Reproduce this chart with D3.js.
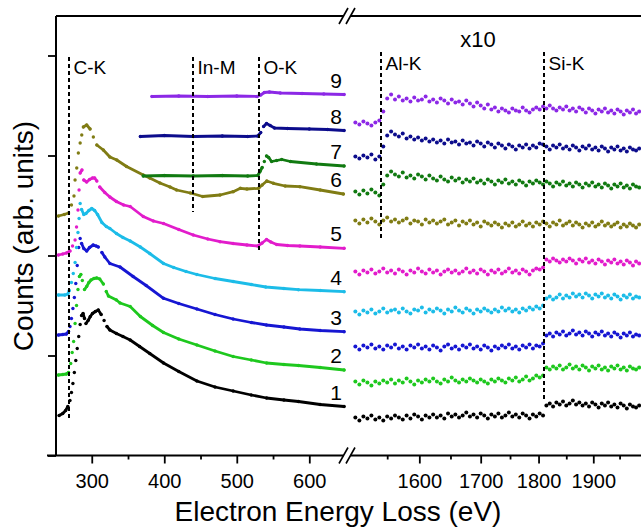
<!DOCTYPE html>
<html>
<head>
<meta charset="utf-8">
<script src="https://cdn.jsdelivr.net/npm/d3@7/dist/d3.min.js"></script>
<style>
  body { margin: 0; background: #fff; }
  svg { display: block; font-family: "Liberation Sans", Arial, sans-serif; }
</style>
</head>
<body>
<div id="chart"></div>
<script>
// ---- Data ----
// low-loss part (linear energy axis), [eV, counts]
const leftS1 = [[255,0.40],[260,0.42],[264,0.45],[267,0.49],[270,0.55],[272,0.63],[274,0.72],[276,0.83],[278,0.95],[280,1.07],[282,1.19],[284,1.31],[286,1.40],[288,1.42],[290,1.37],[292,1.32],[295,1.35],[298,1.39],[301,1.42],[305,1.44],[309,1.455],[313,1.41],[317,1.35],[321,1.29],[325,1.255],[334,1.22],[343,1.19],[353,1.155],[366,1.09],[380,1.02],[399,0.925],[420,0.84],[445,0.745],[470,0.685],[495,0.645],[520,0.605],[541,0.575],[565,0.555],[585,0.54],[615,0.51],[648,0.49]];
const leftS2 = [[254,0.805],[260,0.81],[265,0.815],[268,0.83],[271,0.92],[273,1.03],[275,1.14],[277,1.32],[279,1.50],[281,1.66],[283,1.79],[285,1.81],[287,1.75],[290,1.66],[293,1.69],[296,1.73],[299,1.755],[303,1.77],[307,1.775],[311,1.765],[316,1.715],[320,1.64],[323,1.595],[334,1.555],[339,1.525],[353,1.49],[367,1.39],[384,1.30],[399,1.23],[420,1.165],[445,1.105],[470,1.045],[495,0.99],[520,0.955],[541,0.925],[565,0.91],[585,0.90],[615,0.88],[648,0.855]];
const leftS3 = [[254,1.205],[260,1.21],[265,1.215],[268,1.24],[270,1.29],[272,1.37],[274,1.47],[276,1.58],[278,1.72],[280,1.90],[282,2.08],[284,2.17],[286,2.12],[289,2.07],[293,2.045],[297,2.08],[302,2.105],[306,2.095],[309,2.085],[314,2.03],[318,1.985],[325,1.92],[339,1.885],[357,1.79],[375,1.70],[399,1.572],[420,1.52],[445,1.465],[470,1.41],[495,1.365],[520,1.33],[541,1.305],[565,1.285],[587,1.265],[615,1.25],[648,1.238]];
const leftS4 = [[254,1.605],[263,1.605],[267,1.615],[269,1.65],[272,1.73],[274.5,1.82],[277,1.93],[279,2.08],[281,2.23],[282.5,2.37],[284,2.52],[286,2.46],[289,2.41],[292,2.42],[296,2.45],[300,2.47],[304,2.45],[308,2.41],[314,2.33],[320,2.29],[325,2.27],[334,2.22],[343,2.18],[353,2.145],[367,2.085],[380,2.02],[399,1.92],[413,1.88],[430,1.84],[445,1.81],[470,1.77],[495,1.74],[520,1.71],[540,1.685],[565,1.67],[585,1.658],[615,1.65],[648,1.638]];
const leftS5 = [[254,2.005],[260,2.015],[265,2.025],[270,2.045],[273.5,2.095],[277,2.155],[279,2.285],[281,2.455],[282.5,2.655],[284,2.825],[286.5,2.855],[289,2.755],[293,2.735],[297,2.76],[301,2.775],[304,2.775],[307,2.745],[311,2.685],[318,2.63],[325,2.585],[334,2.54],[344,2.505],[353,2.49],[371,2.39],[385,2.345],[399,2.32],[420,2.26],[440,2.205],[460,2.165],[477,2.138],[495,2.12],[514,2.105],[529,2.095],[535,2.125],[541,2.16],[547,2.135],[555,2.11],[570,2.10],[587,2.095],[615,2.085],[648,2.072]];
const leftS6 = [[254,2.395],[262,2.41],[268,2.425],[272,2.505],[275.5,2.595],[277,2.755],[279.3,2.875],[281.5,3.025],[284,3.125],[286.2,3.205],[288.4,3.285],[293,3.305],[297.7,3.265],[302.2,3.185],[307,3.105],[316,3.055],[325,2.985],[334.5,2.955],[348,2.89],[371,2.805],[380,2.775],[394,2.725],[408,2.685],[417,2.655],[436,2.625],[453,2.59],[477,2.605],[495,2.638],[505,2.672],[514,2.665],[530,2.672],[535,2.705],[541.4,2.745],[550.5,2.722],[566.6,2.695],[587,2.688],[615,2.655],[647,2.615]];
const leftS7 = [[371,2.795],[400,2.80],[440,2.795],[480,2.80],[515,2.795],[529,2.80],[532,2.84],[535,2.88],[538,2.94],[541,2.995],[544,2.98],[548,2.94],[555,2.95],[562,2.96],[574,2.94],[610,2.915],[648,2.895]];
const leftS8 = [[367,3.19],[400,3.20],[440,3.19],[480,3.195],[515,3.19],[529,3.195],[533,3.23],[537,3.29],[541,3.32],[546,3.30],[552,3.275],[570,3.27],[600,3.265],[625,3.26],[648,3.25]];
const leftS9 = [[383,3.59],[420,3.595],[460,3.59],[500,3.595],[528,3.59],[533,3.605],[538,3.63],[545,3.635],[560,3.625],[590,3.62],[620,3.615],[648,3.61]];

// high-loss part (x10), shared energy grid
const rightE = [1502,1508,1514,1520,1526,1532,1538,1544,1550,1556,
  1562,1568,1574,1580,1586,1592,1598,1604,1610,1616,
  1622,1628,1634,1640,1646,1652,1658,1664,1670,1676,
  1682,1688,1694,1700,1706,1712,1718,1724,1730,1736,
  1742,1748,1754,1760,1766,1772,1778,1784,1790,1796,
  1802,1808,1814,1820,1826,1832,1838,1844,1850,1856,
  1862,1868,1874,1880,1886,1892,1898,1904,1910,1916,
  1922,1928,1934,1940,1946,1952,1958,1964,1970,1976,
  1982,1988];
const rightS1 = [0.38,0.35,0.39,0.37,0.40,0.36,0.38,0.35,0.39,0.37,
  0.40,0.38,0.36,0.40,0.37,0.41,0.39,0.36,0.40,0.38,
  0.41,0.38,0.40,0.37,0.42,0.39,0.41,0.38,0.40,0.43,
  0.39,0.41,0.38,0.42,0.40,0.37,0.41,0.39,0.42,0.38,
  0.40,0.43,0.39,0.41,0.38,0.42,0.40,0.37,0.41,0.39,
  0.42,0.40,0.50,0.52,0.49,0.53,0.51,0.54,0.50,0.52,
  0.55,0.51,0.53,0.50,0.52,0.49,0.53,0.51,0.48,0.52,
  0.50,0.53,0.49,0.51,0.48,0.52,0.50,0.47,0.51,0.49,
  0.48,0.50];
const rightS2 = [0.74,0.71,0.75,0.73,0.70,0.74,0.72,0.75,0.73,0.76,
  0.72,0.75,0.73,0.77,0.74,0.71,0.75,0.73,0.76,0.74,
  0.77,0.74,0.72,0.76,0.74,0.78,0.75,0.73,0.76,0.74,
  0.77,0.75,0.73,0.76,0.74,0.72,0.76,0.74,0.77,0.75,
  0.73,0.77,0.75,0.78,0.74,0.76,0.79,0.75,0.77,0.80,
  0.78,0.80,0.88,0.86,0.89,0.87,0.90,0.86,0.88,0.91,
  0.87,0.89,0.86,0.90,0.88,0.85,0.89,0.87,0.90,0.86,
  0.88,0.85,0.89,0.87,0.90,0.86,0.88,0.85,0.89,0.87,
  0.86,0.88];
const rightS3 = [1.09,1.06,1.10,1.08,1.11,1.07,1.09,1.06,1.10,1.08,
  1.11,1.07,1.09,1.06,1.10,1.08,1.11,1.07,1.09,1.06,
  1.10,1.08,1.05,1.09,1.11,1.07,1.09,1.06,1.10,1.08,
  1.11,1.07,1.09,1.06,1.10,1.08,1.05,1.09,1.07,1.10,
  1.08,1.11,1.07,1.09,1.06,1.10,1.08,1.11,1.07,1.10,
  1.09,1.12,1.20,1.22,1.19,1.23,1.21,1.24,1.20,1.22,
  1.25,1.21,1.23,1.20,1.24,1.22,1.19,1.23,1.21,1.24,
  1.20,1.22,1.19,1.23,1.21,1.18,1.22,1.20,1.23,1.19,
  1.21,1.20];
const rightS4 = [1.44,1.41,1.45,1.43,1.46,1.42,1.44,1.47,1.43,1.45,
  1.46,1.43,1.47,1.44,1.42,1.46,1.45,1.48,1.43,1.46,
  1.44,1.47,1.45,1.42,1.46,1.44,1.48,1.45,1.43,1.47,
  1.45,1.42,1.46,1.44,1.47,1.45,1.43,1.46,1.44,1.48,
  1.45,1.47,1.44,1.46,1.43,1.47,1.45,1.48,1.46,1.49,
  1.47,1.50,1.57,1.59,1.56,1.58,1.61,1.57,1.60,1.58,
  1.62,1.59,1.61,1.58,1.62,1.60,1.57,1.61,1.59,1.62,
  1.58,1.60,1.57,1.61,1.59,1.56,1.60,1.58,1.61,1.57,
  1.59,1.58];
const rightS5 = [1.84,1.81,1.85,1.83,1.86,1.82,1.84,1.87,1.83,1.85,
  1.82,1.86,1.84,1.81,1.85,1.83,1.87,1.84,1.82,1.86,
  1.83,1.85,1.81,1.84,1.86,1.83,1.85,1.82,1.84,1.87,
  1.83,1.85,1.82,1.86,1.84,1.81,1.85,1.83,1.86,1.82,
  1.84,1.87,1.83,1.85,1.82,1.86,1.84,1.81,1.85,1.87,
  1.86,1.88,1.96,1.94,1.97,1.95,1.93,1.96,1.94,1.97,
  1.95,1.92,1.96,1.94,1.97,1.93,1.95,1.92,1.96,1.94,
  1.91,1.95,1.93,1.96,1.92,1.94,1.91,1.95,1.93,1.90,
  1.94,1.92];
const rightS6 = [2.35,2.32,2.36,2.33,2.37,2.34,2.31,2.35,2.38,2.34,
  2.36,2.33,2.35,2.37,2.32,2.35,2.34,2.31,2.36,2.33,
  2.35,2.32,2.34,2.36,2.31,2.33,2.35,2.30,2.34,2.32,
  2.35,2.31,2.33,2.29,2.34,2.32,2.30,2.33,2.31,2.28,
  2.32,2.30,2.33,2.29,2.31,2.34,2.30,2.32,2.29,2.33,
  2.31,2.34,2.32,2.29,2.33,2.31,2.35,2.30,2.32,2.34,
  2.30,2.33,2.31,2.28,2.32,2.30,2.33,2.29,2.31,2.34,
  2.30,2.32,2.29,2.31,2.33,2.28,2.31,2.29,2.32,2.30,
  2.28,2.31];
const rightS7 = [2.64,2.61,2.65,2.62,2.66,2.63,2.60,2.71,2.80,2.84,
  2.81,2.79,2.83,2.78,2.80,2.77,2.81,2.79,2.76,2.80,
  2.77,2.75,2.79,2.76,2.74,2.78,2.75,2.77,2.73,2.76,
  2.74,2.77,2.73,2.75,2.72,2.76,2.74,2.71,2.75,2.73,
  2.76,2.72,2.74,2.71,2.75,2.73,2.70,2.74,2.72,2.75,
  2.73,2.71,2.74,2.72,2.69,2.73,2.71,2.74,2.70,2.72,
  2.69,2.73,2.71,2.68,2.72,2.70,2.73,2.69,2.71,2.68,
  2.72,2.70,2.67,2.71,2.69,2.72,2.68,2.70,2.67,2.71,
  2.69,2.68];
const rightS8 = [2.99,2.97,3.00,2.98,3.01,2.96,2.99,3.09,3.20,3.24,
  3.21,3.19,3.22,3.17,3.19,3.16,3.18,3.15,3.17,3.14,
  3.16,3.13,3.15,3.12,3.16,3.13,3.14,3.11,3.15,3.12,
  3.13,3.10,3.14,3.12,3.09,3.13,3.11,3.08,3.12,3.10,
  3.07,3.11,3.09,3.06,3.10,3.08,3.11,3.07,3.10,3.08,
  3.12,3.11,3.09,3.06,3.10,3.08,3.11,3.07,3.09,3.06,
  3.10,3.08,3.05,3.09,3.07,3.10,3.06,3.08,3.05,3.09,
  3.07,3.04,3.08,3.06,3.09,3.05,3.07,3.04,3.08,3.06,
  3.05,3.07];
const rightS9 = [3.33,3.31,3.34,3.32,3.30,3.33,3.35,3.44,3.57,3.61,
  3.56,3.59,3.55,3.57,3.54,3.58,3.55,3.56,3.59,3.54,
  3.56,3.53,3.57,3.55,3.52,3.56,3.53,3.54,3.51,3.55,
  3.52,3.49,3.53,3.50,3.47,3.51,3.46,3.48,3.44,3.47,
  3.45,3.43,3.47,3.45,3.44,3.48,3.45,3.43,3.46,3.48,
  3.46,3.49,3.47,3.50,3.47,3.45,3.48,3.46,3.49,3.45,
  3.47,3.44,3.48,3.46,3.43,3.47,3.45,3.42,3.46,3.44,
  3.47,3.43,3.45,3.42,3.46,3.44,3.41,3.45,3.43,3.46,
  3.42,3.44];

const seriesLabels = ["1", "2", "3", "4", "5", "6", "7", "8", "9"];
const leftData = [leftS1, leftS2, leftS3, leftS4, leftS5, leftS6, leftS7, leftS8, leftS9];
const rightData = [rightS1, rightS2, rightS3, rightS4, rightS5, rightS6, rightS7, rightS8, rightS9];
const colors = ["#000000", "#1ec81e", "#1616d2", "#1cbce8", "#e21ccb", "#807c14", "#117a11", "#0c0c8c", "#8c28e6"];

// edge markers: energy, top and bottom of the dashed line (counts)
const edgesLeft = [
  { name: "C-K", e: 269, top: 3.985, bottom: 0.375 },
  { name: "In-M", e: 440, top: 3.985, bottom: 2.435 },
  { name: "O-K", e: 530, top: 3.985, bottom: 2.055 },
];
const edgesRight = [
  { name: "Al-K", e: 1541, top: 4.035, bottom: 2.175 },
  { name: "Si-K", e: 1809, top: 4.035, bottom: 0.555 },
];

const leftMajor = [300, 400, 500, 600];
const leftMinor = [350, 450, 550];
const rightMajor = [1600, 1700, 1800, 1900];
const rightMinor = [1550, 1650, 1750, 1850, 1950];
const yTicks = [0, 1, 2, 3, 4];

// ---- Dimensions ----
const width = 641, height = 528;
const plotLeft = 56, plotTop = 16, plotBottom = 455.5;
const breakL = 343.5, breakR = 350.5;

const svg = d3.select("#chart").append("svg")
  .attr("width", width).attr("height", height);

// Scales
const xL = d3.scaleLinear().domain([250, 652]).range([55.5, 347]);
const xR = d3.scaleLog().domain([1500, 2000]).range([354, 645.2]);
const y = d3.scaleLinear().domain([0, 4.395]).range([plotBottom, plotTop]);

// ---- Axes ----
function styleAxis(g) {
  g.select(".domain").remove();
  g.selectAll("line").attr("stroke", "#000").attr("stroke-width", 1.8);
  g.selectAll("text").attr("font-size", 20).attr("fill", "#000")
    .attr("font-family", "'Liberation Sans', Arial, sans-serif");
}

svg.append("g").attr("transform", `translate(0,${plotBottom})`)
  .call(d3.axisBottom(xL).tickValues(leftMajor).tickSize(8).tickPadding(10).tickFormat(d3.format("d")))
  .call(styleAxis);
svg.append("g").attr("transform", `translate(0,${plotBottom})`)
  .call(d3.axisBottom(xL).tickValues(leftMinor).tickSize(4).tickFormat(""))
  .call(styleAxis);
svg.append("g").attr("transform", `translate(0,${plotBottom})`)
  .call(d3.axisBottom(xR).tickValues(rightMajor).tickSize(8).tickPadding(10).tickFormat(d3.format("d")))
  .call(styleAxis);
svg.append("g").attr("transform", `translate(0,${plotBottom})`)
  .call(d3.axisBottom(xR).tickValues(rightMinor).tickSize(4).tickFormat(""))
  .call(styleAxis);
svg.append("g").attr("transform", `translate(${plotLeft},0)`)
  .call(d3.axisLeft(y).tickValues(yTicks).tickSize(8).tickFormat(""))
  .call(styleAxis);

// frame lines with the axis break
const frame = svg.append("g").attr("stroke", "#000").attr("stroke-width", 2);
[[47, breakL, plotBottom], [breakR, width, plotBottom], [plotLeft, breakL, plotTop], [breakR, width, plotTop]]
  .forEach(([a, b, yy]) => frame.append("line").attr("x1", a).attr("x2", b).attr("y1", yy).attr("y2", yy));
frame.append("line").attr("x1", plotLeft).attr("x2", plotLeft).attr("y1", plotTop).attr("y2", plotBottom);
[plotTop, plotBottom].forEach((yy) => {
  [0, 7].forEach((off) => {
    frame.append("line").attr("stroke-width", 1.6)
      .attr("x1", breakL - 4.5 + off).attr("y1", yy + 8)
      .attr("x2", breakL + 4.5 + off).attr("y2", yy - 8);
  });
});

// ---- Spectra ----
const ctr = svg.append("g");

// steep jumps between close points are left as separate dots, as in the measured data
function drawLeft(pts, color) {
  const p = pts.map((d) => [xL(d[0]), y(d[1])]);
  const runs = [[p[0]]];
  for (let i = 1; i < p.length; i++) {
    const dx = Math.abs(p[i][0] - p[i - 1][0]);
    const dy = Math.abs(p[i][1] - p[i - 1][1]);
    if (dy <= 5 || dx >= 4) runs[runs.length - 1].push(p[i]);
    else runs.push([p[i]]);
  }
  runs.filter((r) => r.length > 1).forEach((r) => {
    ctr.append("path").attr("d", d3.line()(r))
      .attr("fill", "none").attr("stroke", color).attr("stroke-width", 2.8)
      .attr("stroke-linejoin", "round").attr("stroke-linecap", "round");
  });
  ctr.append("g").selectAll("circle").data(p).join("circle")
    .attr("cx", (d) => d[0]).attr("cy", (d) => d[1]).attr("r", 1.7).attr("fill", color);
}

leftData.forEach((s, i) => drawLeft(s, colors[i]));

rightData.forEach((s, i) => {
  ctr.append("g").selectAll("circle").data(s).join("circle")
    .attr("cx", (d, j) => xR(rightE[j]))
    .attr("cy", (d) => y(d))
    .attr("r", 2)
    .attr("fill", colors[i]);
});

// curve numbers
ctr.append("g").selectAll("text").data(leftData).join("text")
  .attr("x", 342)
  .attr("y", (d) => y(d[d.length - 1][1]) - 7)
  .attr("text-anchor", "end")
  .attr("font-size", 21)
  .text((d, i) => seriesLabels[i]);

// ---- Edge markers ----
const edges = svg.append("g");
function drawEdges(list, xs, labelY) {
  list.forEach((e) => {
    const ex = Math.round(xs(e.e));
    edges.append("line")
      .attr("x1", ex).attr("x2", ex)
      .attr("y1", y(e.top)).attr("y2", y(e.bottom))
      .attr("stroke", "#000").attr("stroke-width", 2).attr("stroke-dasharray", "4,3");
    edges.append("text")
      .attr("x", ex + 4.5).attr("y", labelY)
      .attr("font-size", 19)
      .text(e.name);
  });
}
drawEdges(edgesLeft, xL, 74);
drawEdges(edgesRight, xR, 70);

svg.append("text").attr("x", 478).attr("y", 47)
  .attr("text-anchor", "middle").attr("font-size", 22).text("x10");

// ---- Titles ----
svg.append("text")
  .attr("x", 338).attr("y", 521)
  .attr("text-anchor", "middle").attr("font-size", 28)
  .text("Electron Energy Loss (eV)");

svg.append("text")
  .attr("transform", "translate(33,236) rotate(-90)")
  .attr("text-anchor", "middle").attr("font-size", 28)
  .text("Counts (arb. units)");
</script>
</body>
</html>
